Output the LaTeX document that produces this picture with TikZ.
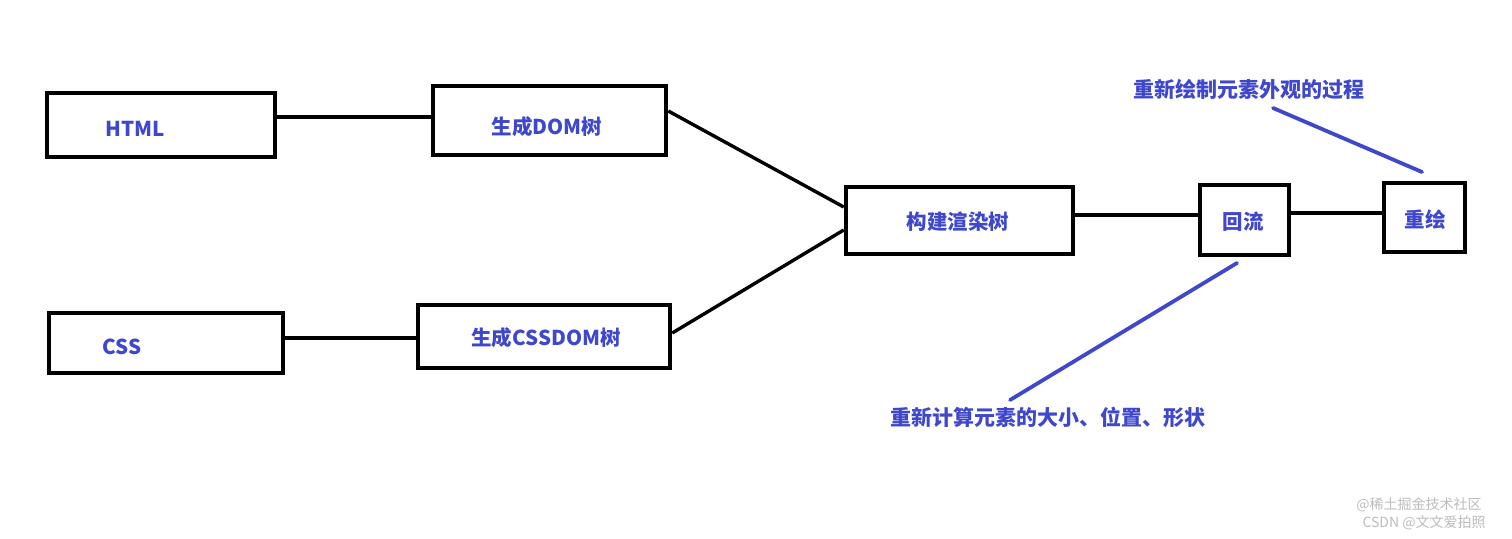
\documentclass[tikz,border=0pt]{standalone}
\usepackage{fontspec}
\setmainfont{Noto Sans CJK SC}
\usetikzlibrary{calc}
\definecolor{pblue}{HTML}{3F48CC}
\definecolor{wm}{HTML}{BDBDBD}
\tikzset{
  box/.style={draw=black, line width=4.5pt, fill=white, inner sep=0pt},
  lbl/.style={text=pblue, font=\fontsize{20.5}{23}\selectfont\bfseries, inner sep=0pt},
  ann/.style={text=pblue, font=\fontsize{21}{24}\selectfont\bfseries, inner sep=0pt},
  conn/.style={draw=black, line width=3.4pt},
  annline/.style={draw=pblue, line width=3.8pt, line cap=round},
  wmark/.style={text=wm, font=\fontsize{14}{16}\selectfont, inner sep=0pt}
}
\begin{document}
\begin{tikzpicture}[x=1pt,y=-1pt]
\useasboundingbox[fill=white] (0,0) rectangle (1512,538);
% boxes
\node[box, minimum width=228pt, minimum height=64pt] (html) at (161,125) {};
\node[box, minimum width=233pt, minimum height=69pt] (dom) at (549.5,120.5) {};
\node[box, minimum width=234pt, minimum height=60pt] (css) at (166,343) {};
\node[box, minimum width=252pt, minimum height=63pt] (cssdom) at (544,336.5) {};
\node[box, minimum width=227pt, minimum height=67pt] (render) at (959.5,220.5) {};
\node[box, minimum width=89pt, minimum height=70pt] (reflow) at (1244.5,220) {};
\node[box, minimum width=81pt, minimum height=69pt] (repaint) at (1424.5,217.5) {};
% labels
\node[lbl] (htmlt) at (135,129) {HTML};
\node[lbl] (domt) at (547,127) {生成DOM树};
\node[lbl] (csst) at (122,347) {CSS};
\node[lbl] (cssdomt) at (546,338) {生成CSSDOM树};
\node[lbl] (rendert) at (958,222) {构建渲染树};
\node[lbl] (reflowt) at (1243,222) {回流};
\node[lbl] (repaintt) at (1425,220) {重绘};
% connectors
\draw[conn] ($(html.east)+(0,-8)$) -- ($(dom.west)+(0,-3.5)$);
\draw[conn] ($(dom.east)+(0,-9.5)$) -- ($(render.west)+(0,-13.5)$);
\draw[conn] ($(cssdom.east)+(0,-3.5)$) -- ($(render.west)+(0,9.5)$);
\draw[conn] ($(css.east)+(0,-5)$) -- ($(cssdom.west)+(0,1.5)$);
\draw[conn] ($(render.east)+(0,-5.5)$) -- ($(reflow.west)+(0,-5)$);
\draw[conn] ($(reflow.east)+(0,-7)$) -- ($(repaint.west)+(0,-4.5)$);
% annotations
\node[ann] (a1) at (1249,89) {重新绘制元素外观的过程};
\node[ann] (a2) at (1048,417) {重新计算元素的大小、位置、形状};
\coordinate (a1s) at (1273,108);
\coordinate (a1e) at (1422,172);
\coordinate (a2s) at (1237,263);
\coordinate (a2e) at (1010,400);
\draw[annline] (a1s) -- (a1e);
\draw[annline] (a2s) -- (a2e);
% watermark
\node[wmark] (wm1) at (1419,505) {@稀土掘金技术社区};
\node[wmark] (wm2) at (1424,523) {CSDN @文文爱拍照};
\end{tikzpicture}
\end{document}
